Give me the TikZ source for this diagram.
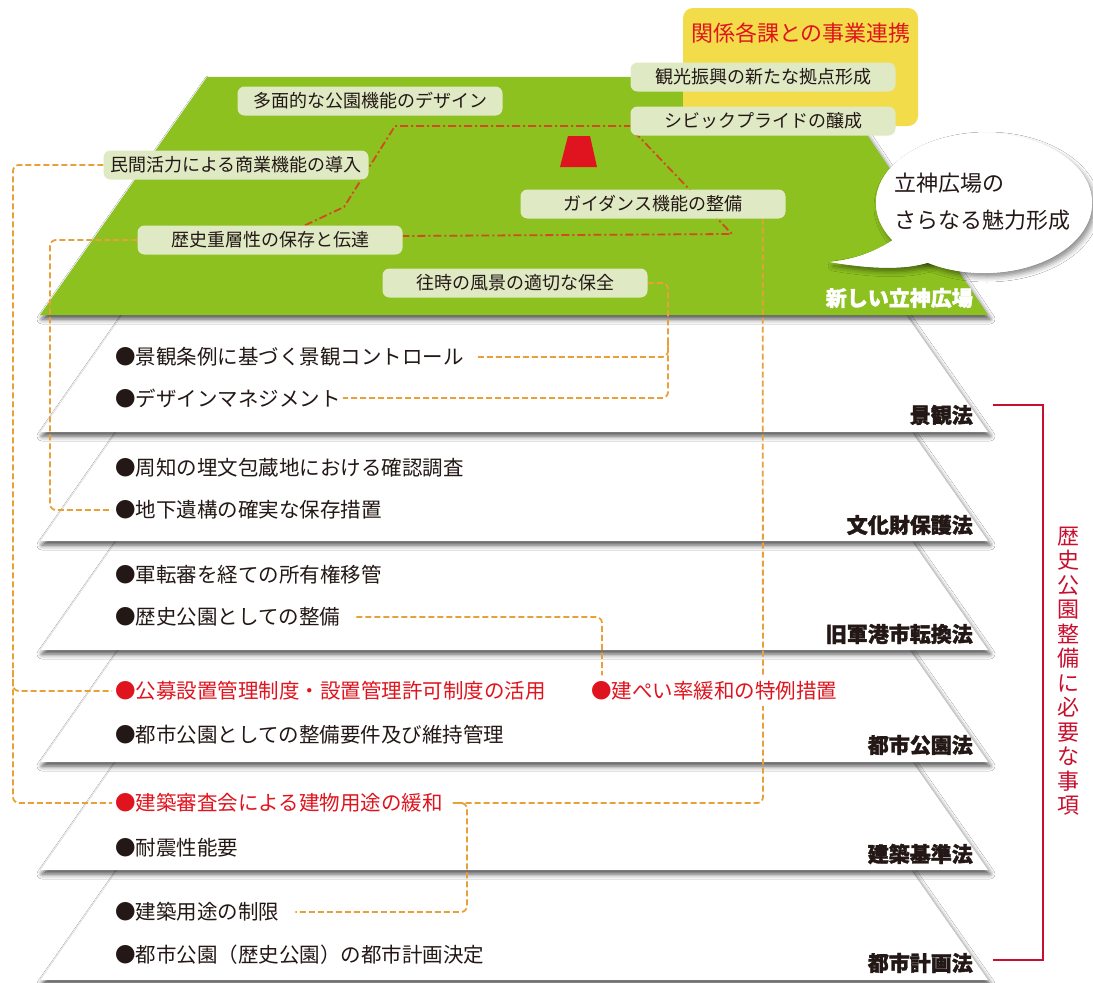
\documentclass[tikz,border=0pt]{standalone}
\usepackage{fontspec}
\setmainfont{Noto Sans CJK JP}
\newfontfamily\heavy{Noto Sans CJK JP}[BoldFeatures={FakeBold=1.6}]
\usetikzlibrary{calc,shadows.blur}
\definecolor{grn}{HTML}{8CC11F}
\definecolor{pillc}{HTML}{DFE9C4}
\definecolor{ylw}{HTML}{F2DC4A}
\definecolor{org}{HTML}{E8A03A}
\definecolor{ddot}{HTML}{D04A22}
\definecolor{redt}{HTML}{E0141E}
\definecolor{brk}{HTML}{C8102E}
\definecolor{ink}{HTML}{231815}
\pgfdeclarelayer{back}\pgfdeclarelayer{mid}\pgfsetlayers{back,mid,main}
\tikzset{
 pillbox/.style={fill=pillc, rounded corners=7pt, minimum width=265pt, minimum height=29pt, inner sep=0pt, text=ink, font=\fontsize{18}{20}\selectfont},
 item/.style={anchor=west, inner sep=0pt, text=ink, font=\fontsize{20.5}{22}\selectfont},
 reditem/.style={item, text=redt},
 lawlabel/.style={anchor=east, inner sep=0pt, text=ink, font=\fontsize{21}{23}\selectfont\heavy\bfseries},
 orgdash/.style={draw=org, line width=1.8pt, dash pattern=on 6pt off 3pt, rounded corners=6pt},
 ddash/.style={draw=ddot, line width=1.8pt, dash pattern=on 8pt off 3pt on 2pt off 3pt},
 slab/.style={fill=white, blur shadow={shadow xshift=2pt, shadow yshift=-4pt, shadow blur radius=5pt, shadow opacity=70}},
}
\begin{document}
\begin{tikzpicture}[x=1pt,y=-1pt]
\useasboundingbox (0,0) rectangle (1093,983);
\begin{pgfonlayer}{back}
\fill[white] (0,0) rectangle (1093,983);
\foreach \t/\b in {870/980, 762/870, 650/762, 541/650, 432/541, 315/432} {
  \pgfmathsetmacro\h{0.7*(\b-\t)}
  \fill[slab] ({40+\h},\t) -- ({988-\h},\t) -- (988,\b) -- (40,\b) -- cycle;
  \draw[gray!25, line width=0.7pt] ({40+\h},\t) -- (40,\b);
}
\fill[grn, blur shadow={shadow xshift=2pt, shadow yshift=-4pt, shadow blur radius=5pt, shadow opacity=70}] (207,77) -- (828,77) -- (988,315) -- (40,315) -- cycle;
\fill[ylw, rounded corners=10pt] (683,8) rectangle (918,126);
\fill[redt] (568,136) -- (590,136) -- (597,167) -- (560,167) -- cycle;
% speech bubble
\fill[white, blur shadow={shadow xshift=3pt, shadow yshift=-4pt, shadow blur radius=5pt, shadow opacity=45}] (984,203) ellipse [x radius=108pt, y radius=70pt];
\fill[white, blur shadow={shadow xshift=3pt, shadow yshift=-4pt, shadow blur radius=5pt, shadow opacity=45}] (893,240) .. controls (872,254) and (850,260) .. (830,262) .. controls (866,268) and (902,271) .. (930,262) -- (940,230) -- cycle;
\fill[white] (984,203) ellipse [x radius=108pt, y radius=70pt];
\fill[white] (893,240) .. controls (872,254) and (850,260) .. (830,262) .. controls (866,268) and (902,271) .. (930,262) -- (940,230) -- cycle;
\end{pgfonlayer}

% pills
\node[pillbox] (tamen) at (370,101) {多面的な公園機能のデザイン};
\node[pillbox] (minkan) at (236,165) {民間活力による商業機能の導入};
\node[pillbox] (guide) at (653,204) {ガイダンス機能の整備};
\node[pillbox] (rekishi) at (270,240) {歴史重層性の保存と伝達};
\node[pillbox] (ouji) at (515,283) {往時の風景の適切な保全};
\node[pillbox] (kanko) at (763,77) {観光振興の新たな拠点形成};
\node[pillbox] (civic) at (763,121) {シビックプライドの醸成};
\node[text=redt, inner sep=0pt, font=\fontsize{22}{24}\selectfont] (renkei) at (801,33) {関係各課との事業連携};
% bubble text
\node[anchor=west, inner sep=0pt, text=ink, font=\fontsize{22}{24}\selectfont] (bub1) at (894,183) {立神広場の};
\node[anchor=west, inner sep=0pt, text=ink, font=\fontsize{22}{24}\selectfont] (bub2) at (894,220) {さらなる魅力形成};
\node[anchor=east, inner sep=0pt, text=white, font=\fontsize{21}{23}\selectfont\heavy\bfseries] (shin) at (973,298) {新しい立神広場};

% items
\node[item] (keikan) at (115,357) {●景観条例に基づく景観コントロール};
\node[item] (design) at (115,398) {●デザインマネジメント};
\node[item] (shuchi) at (115,468) {●周知の埋文包蔵地における確認調査};
\node[item] (chika) at (115,510) {●地下遺構の確実な保存措置};
\node[item] (gunten) at (115,575) {●軍転審を経ての所有権移管};
\node[item] (seibi) at (115,617) {●歴史公園としての整備};
\node[reditem] (koubo) at (115,691) {●公募設置管理制度・設置管理許可制度の活用};
\node[reditem, fill=white, inner ysep=6pt] (tokurei) at (591,691) {●建ぺい率緩和の特例措置};
\node[item] (youken) at (115,735) {●都市公園としての整備要件及び維持管理};
\node[reditem] (shinsa) at (115,803) {●建築審査会による建物用途の緩和};
\node[item] (taishin) at (115,848) {●耐震性能要};
\node[item] (seigen) at (115,912) {●建築用途の制限};
\node[item] (kettei) at (115,955) {●都市公園（歴史公園）の都市計画決定};

% law labels
\node[lawlabel] (l1) at (973,415) {景観法};
\node[lawlabel] (l2) at (973,525) {文化財保護法};
\node[lawlabel] (l3) at (973,634) {旧軍港市転換法};
\node[lawlabel] (l4) at (973,745) {都市公園法};
\node[lawlabel] (l5) at (973,854) {建築基準法};
\node[lawlabel] (l6) at (973,963) {都市計画法};

% bracket and vertical text
\coordinate (bt) at (993,405);
\coordinate (bb) at (993,960);
\draw[brk, line width=1.8pt] (bt) -| (1043,960) -- (bb);
\node[text=brk, inner sep=0pt, align=center, font=\fontsize{22}{24.5}\selectfont] (jikou) at (1068,671) {歴\\史\\公\\園\\整\\備\\に\\必\\要\\な\\事\\項};

% connectors
\begin{pgfonlayer}{mid}
\draw[orgdash] (minkan.west) -- (13,165) -- (13,803) -- ($(shinsa.west)+(-3,0)$);
\draw[orgdash] (13,670) -- (13,691) -- ($(koubo.west)+(-3,0)$);
\draw[orgdash] (rekishi.west) -- (50,240) -- (50,510) -- ($(chika.west)+(-3,0)$);
\draw[orgdash] (ouji.east) -- (668,283) -- (668,398) -- ($(design.east)+(2,0)$);
\draw[orgdash] ($(keikan.east)+(14,0)$) -- (668,357) -- (668,340);
\draw[orgdash] ($(guide.south east)+(-23,0)$) -- (763,803) -- ($(shinsa.east)+(10,0)$);
\draw[orgdash] ($(shinsa.east)+(10,0)$) -- (467,803) -- (467,912) -- ($(seigen.east)+(16,0)$);
\draw[orgdash] ($(seibi.east)+(16,0)$) -- (602,617) -- ($(tokurei.north west)+(11,0)$);
\draw[ddash] ($(rekishi.north)+(35,0)$) -- (344,207) -- (395,126) -- ($(civic.west)+(0,5)$);
\draw[ddash] ($(civic.south west)+(4,-4)$) -- (732,234) -- ($(rekishi.east)+(0,-4)$);
\end{pgfonlayer}
\end{tikzpicture}
\end{document}
